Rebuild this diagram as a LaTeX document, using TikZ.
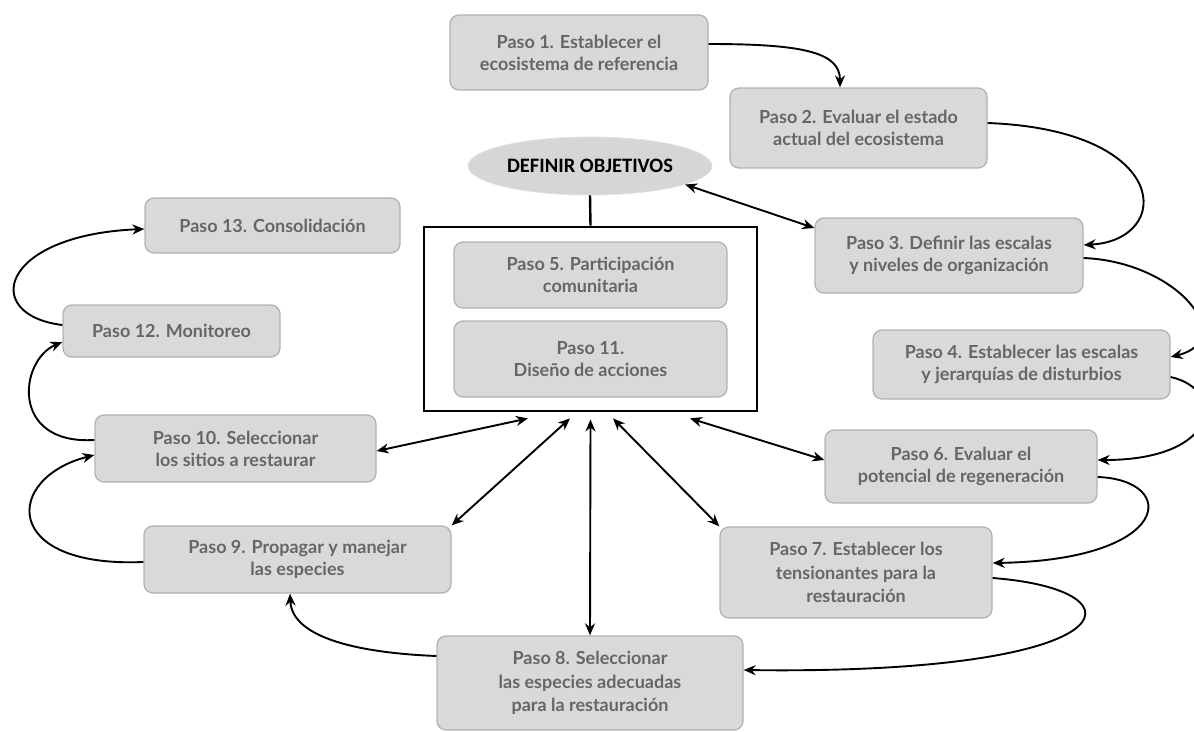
\documentclass[tikz,border=0pt]{standalone}
\usepackage{fontspec}
\setmainfont{Lato}
\newfontfamily\carlfont{Carlito}
\usetikzlibrary{arrows.meta,shapes.geometric,calc}
\begin{document}
\begin{tikzpicture}[x=1pt,y=-1pt,
  stepbox/.style={draw=black!30, line width=1.3pt, fill=black!15, rounded corners=9pt,
    inner sep=0pt, align=center, text=black!60,
    font=\fontsize{18}{22}\selectfont\bfseries},
  objbox/.style={ellipse, draw=black!12, line width=0.8pt, fill=black!16, inner sep=0pt,
    font=\carlfont\fontsize{20.5}{24}\selectfont\bfseries},
  framebox/.style={draw=black, line width=2.8pt, inner sep=0pt},
  flow/.style={line width=1.9pt, -{Stealth[length=12pt,width=10pt]}},
  link/.style={line width=1.9pt, {Stealth[length=12pt,width=10pt]}-{Stealth[length=12pt,width=10pt]}}
]
\useasboundingbox (0,0) rectangle (1194,731);
\clip (0,0) rectangle (1194,731);

% nodes
\node[stepbox, minimum width=258pt, minimum height=75pt] (p1) at (579,52.5) {Paso 1. Establecer el\\ecosistema de referencia};
\node[stepbox, minimum width=257pt, minimum height=80pt] (p2) at (858.5,128) {Paso 2. Evaluar el estado\\actual del ecosistema};
\node[objbox, minimum width=244pt, minimum height=58pt] (ell) at (590,166) {DEFINIR OBJETIVOS};
\node[stepbox, minimum width=268pt, minimum height=75pt] (p3) at (949,255.5) {Paso 3. Definir las escalas\\y niveles de organización};
\node[stepbox, minimum width=297pt, minimum height=69pt] (p4) at (1021.5,364.5) {Paso 4. Establecer las escalas\\y jerarquías de disturbios};
\node[framebox, minimum width=333pt, minimum height=184pt] (frame) at (590.5,319) {};
\node[stepbox, minimum width=273pt, minimum height=66pt] (p5) at (590.5,275) {Paso 5. Participación\\comunitaria};
\node[stepbox, minimum width=273pt, minimum height=76pt] (p11) at (590.5,359) {Paso 11.\\Diseño de acciones};
\node[stepbox, minimum width=272pt, minimum height=73pt] (p6) at (961,466.5) {Paso 6. Evaluar el\\potencial de regeneración};
\node[stepbox, minimum width=272pt, minimum height=91pt, font=\fontsize{18}{23.5}\selectfont\bfseries] (p7) at (856,572.5) {Paso 7. Establecer los\\tensionantes para la\\restauración};
\node[stepbox, minimum width=306pt, minimum height=94pt, font=\fontsize{18}{23.5}\selectfont\bfseries] (p8) at (590,683) {Paso 8. Seleccionar\\las especies adecuadas\\para la restauración};
\node[stepbox, minimum width=307pt, minimum height=67pt] (p9) at (297.5,559.5) {Paso 9. Propagar y manejar\\las especies};
\node[stepbox, minimum width=281pt, minimum height=67pt] (p10) at (235.5,448.5) {Paso 10. Seleccionar\\los sitios a restaurar};
\node[stepbox, minimum width=217pt, minimum height=52pt] (p12) at (171.5,331) {Paso 12. Monitoreo};
\node[stepbox, minimum width=255pt, minimum height=55pt] (p13) at (272.5,225.5) {Paso 13. Consolidación};

% connector objective - frame
\draw[line width=2.4pt] (ell.south) -- (frame.north);

% cycle
\draw[flow] ([yshift=8.5pt]p1.east) .. controls +(95,0) and +(0,-35) .. ([xshift=-18.5pt]p2.north);
\draw[flow] ([yshift=5pt]p2.east) .. controls +(185,7) and +(90,-5) .. ([yshift=10.5pt]p3.east);
\draw[flow] ([yshift=-2.5pt]p3.east) .. controls +(95,4) and +(68,-17) .. ([yshift=7.5pt]p4.east);
\draw[flow] ([yshift=-12.5pt]p4.east) .. controls +(57,13) and +(122,0) .. ([yshift=6.5pt]p6.east);
\draw[flow] ([yshift=-10.5pt]p6.east) .. controls +(82,3) and +(180,-3) .. ([yshift=9.5pt]p7.east);
\draw[flow] ([yshift=-5.5pt]p7.east) .. controls +(157,12) and +(387,5) .. ([yshift=13pt]p8.east);
\draw[flow] ([yshift=27pt]p8.west) .. controls +(-75,-3) and +(2,45) .. ([xshift=-7.5pt]p9.south);
\draw[flow] ([yshift=-2.5pt]p9.west) .. controls +(-143,6) and +(-90,23) .. ([yshift=-6.5pt]p10.west);
\draw[flow] ([yshift=8.5pt]p10.west) .. controls +(-85,5) and +(-43,18) .. ([yshift=-11pt]p12.west);
\draw[flow] ([yshift=6pt]p12.west) .. controls +(-82,-10) and +(-145,6) .. ([yshift=-3.5pt]p13.west);

% links to the central block
\draw[link] (ell.-11) -- ([yshift=27.5pt]p3.west);
\draw[link] ([xshift=-62.5pt,yshift=-6pt]frame.south) -- ([yshift=-2.5pt]p10.east);
\draw[link] ([xshift=-20.5pt,yshift=-6pt]frame.south) -- (p9.north east);
\draw[link] ([yshift=-7pt]frame.south) -- (p8.north);
\draw[link] ([xshift=22.5pt,yshift=-6pt]frame.south) -- (p7.north west);
\draw[link] ([xshift=99.5pt,yshift=-6pt]frame.south) -- ([yshift=6.5pt]p6.west);
\end{tikzpicture}
\end{document}
